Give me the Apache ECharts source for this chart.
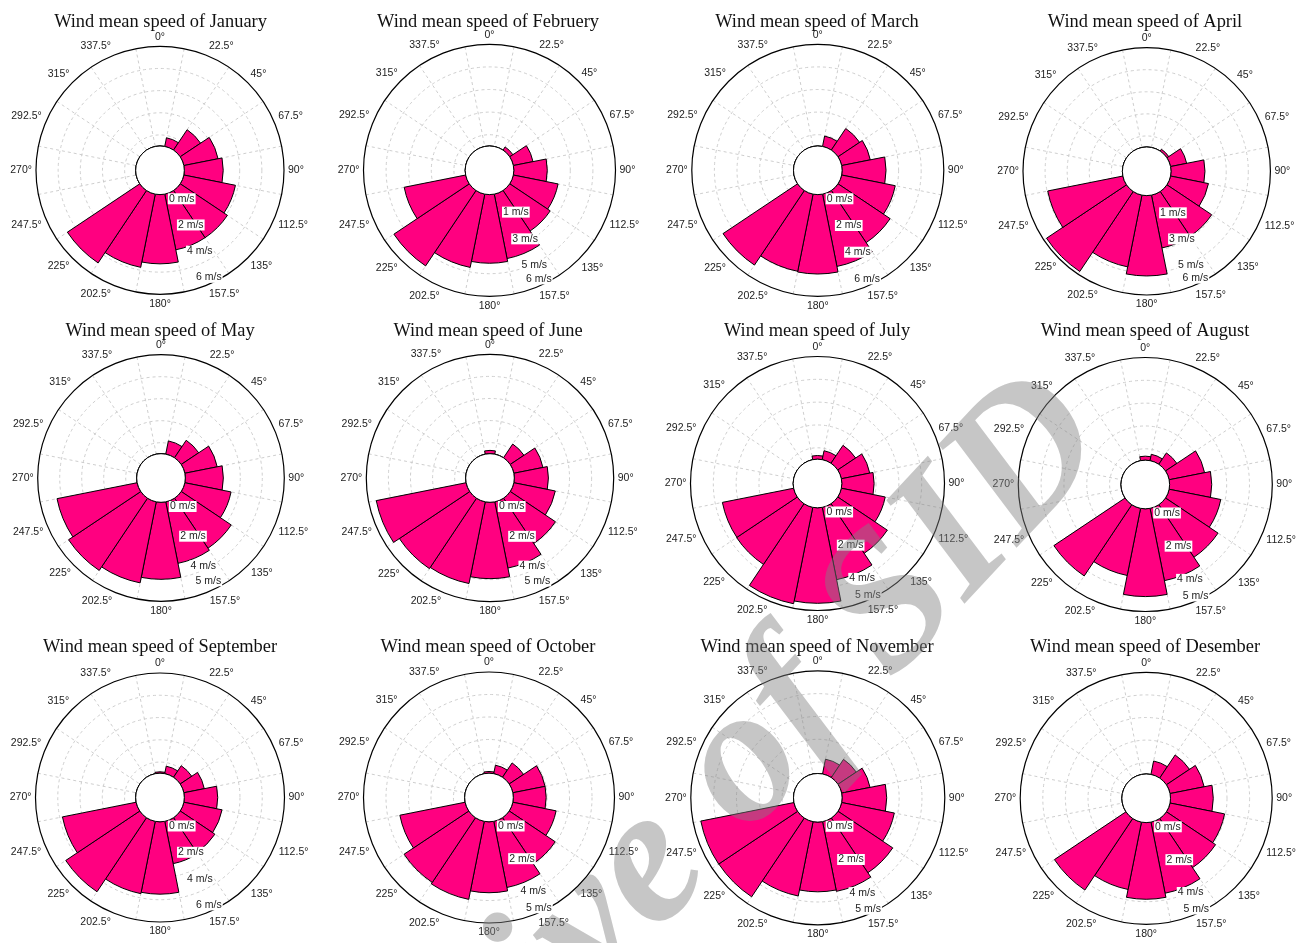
<!DOCTYPE html>
<html>
<head>
<meta charset="utf-8">
<script src="https://cdn.jsdelivr.net/npm/echarts@6/dist/echarts.min.js"></script>
<style>
  html, body { margin: 0; padding: 0; background: #ffffff; }
  #chart { width: 1297px; height: 943px; }
</style>
</head>
<body>
<div id="chart"></div>
<script>
// Compass sectors, clockwise from north
const directions = ['0°', '22.5°', '45°', '67.5°', '90°', '112.5°', '135°', '157.5°',
                    '180°', '202.5°', '225°', '247.5°', '270°', '292.5°', '315°', '337.5°'];

const monthNames = ['January', 'Februery', 'March', 'April', 'May', 'June',
                    'July', 'August', 'September', 'October', 'November', 'Desember'];

// Mean wind speed (m/s) per direction sector
const january   = [0, 0.64, 1.77, 2.52, 2.81, 3.80, 4.10, 4.10, 5.00, 5.39, 6.29, 0, 0, 0, 0, 0];
const february  = [0, 0, 0.27, 1.42, 2.37, 3.23, 3.45, 4.65, 4.86, 5.29, 6.42, 4.44, 0, 0, 0, 0];
const march     = [0, 0.75, 1.84, 2.07, 3.11, 3.87, 4.44, 5.22, 5.62, 5.57, 6.35, 0, 0, 0, 0, 0];
const april     = [0, 0, 0.16, 1.19, 2.46, 2.80, 3.90, 3.90, 5.82, 5.30, 6.97, 5.55, 0, 0, 0, 0];
const may       = [0, 0.86, 1.34, 2.10, 2.42, 3.00, 3.83, 3.99, 4.90, 5.26, 5.53, 5.20, 0, 0, 0, 0];
const june      = [0.21, 0, 1.05, 1.88, 2.16, 2.68, 3.45, 4.28, 4.84, 5.28, 5.37, 5.81, 0, 0, 0, 0];
const july      = [0.21, 0.52, 1.23, 1.65, 1.84, 2.55, 3.40, 4.20, 5.44, 5.60, 4.16, 4.14, 0, 0, 0, 0];
const august    = [0.23, 0.37, 0.78, 2.06, 2.40, 3.00, 3.60, 4.20, 5.00, 3.90, 4.88, 0, 0, 0, 0, 0];
const september = [0.10, 0.55, 1.00, 1.50, 2.40, 2.80, 3.00, 3.10, 5.20, 5.30, 6.40, 5.40, 0, 0, 0, 0];
const october   = [0.10, 0.50, 1.00, 1.90, 1.90, 2.55, 3.20, 3.90, 4.10, 4.60, 4.50, 3.85, 0, 0, 0, 0];
const november  = [0, 0.86, 1.25, 1.65, 2.54, 3.06, 3.75, 4.05, 3.97, 4.32, 5.40, 5.41, 0, 0, 0, 0];
const december  = [0, 0.79, 1.60, 2.00, 2.46, 3.20, 3.40, 4.17, 4.41, 3.95, 4.95, 0, 0, 0, 0, 0];

// Radial speed labels shown on each rose (m/s)
const janTicks = [0, 2, 4, 6];
const febTicks = [1, 3, 5, 6];
const marTicks = [0, 2, 4, 6];
const aprTicks = [1, 3, 5, 6];
const mayTicks = [0, 2, 4, 5];
const junTicks = [0, 2, 4, 5];
const julTicks = [0, 2, 4, 5];
const augTicks = [0, 2, 4, 5];
const sepTicks = [0, 2, 4, 6];
const octTicks = [0, 2, 4, 5];
const novTicks = [0, 2, 4, 5];
const decTicks = [0, 2, 4, 5];

// Speed at the outer circle of each rose (m/s)
const outerSpeed = [7.2, 7.2, 7.2, 7.2, 6.3, 6.3, 5.85, 5.85, 7.2, 5.85, 5.85, 5.85];

const monthValues = [january, february, march, april, may, june, july, august,
                     september, october, november, december];
const monthTicks = [janTicks, febTicks, marTicks, aprTicks, mayTicks, junTicks,
                    julTicks, augTicks, sepTicks, octTicks, novTicks, decTicks];

// Layout: rose centres, outer radii and title rows (pixels)
const centers = [
  [160, 170.3], [489.5, 170.3], [817.8, 170.3], [1146.7, 171.3],
  [161, 478], [490, 478], [817.5, 483.5], [1145.3, 484.5],
  [160, 797.5], [489, 797.5], [817.8, 797.8], [1146.2, 798.3]
];
const outerRadius = [124, 126, 126, 123.7, 123.3, 123.7, 127, 127, 124.5, 125.5, 127, 126];
const titleTop = [13, 13, 13, 13, 322, 322, 322, 322, 638, 638, 638, 638];
const titleX = [160.5, 488, 817, 1145, 160, 488, 817, 1145, 160, 488, 817, 1145];
const HOLE = 24.3;          // radius of the calm circle in the middle
const LABEL_BEARING = 161;  // compass bearing of the speed labels

const polar = [], angleAxis = [], radiusAxis = [], series = [], title = [];

monthValues.forEach((values, i) => {
  const M = outerSpeed[i];
  const R = outerRadius[i];
  // the axis runs from -M/9 (hidden under the calm circle) to M;
  // speed 0 lands exactly on the calm circle edge
  const rIn = (HOLE - 0.1 * R) / 0.9;
  const center = centers[i];
  const rings = [-M / 9, M / 9, 3 * M / 9, 5 * M / 9, 7 * M / 9];

  title.push({
    text: 'Wind mean speed of ' + monthNames[i],
    left: titleX[i], top: titleTop[i], textAlign: 'center', padding: 0,
    textStyle: { fontFamily: 'Liberation Serif', fontSize: 18.4, fontWeight: 'normal', color: '#111' }
  });

  // rose grid and bars
  polar.push({ center: center, radius: [rIn, R] });
  angleAxis.push({
    polarIndex: 2 * i,
    type: 'category',
    data: directions,
    startAngle: 90 + 11.25,
    clockwise: true,
    boundaryGap: true,
    axisLine: { show: true, lineStyle: { color: '#000', width: 1.2 } },
    axisTick: { show: false },
    axisLabel: { show: true, interval: 0, margin: 4, fontFamily: 'Liberation Sans', fontSize: 10.5, color: '#222' },
    splitLine: { show: true, lineStyle: { color: '#c8c8c8', width: 0.9, type: [3, 3] } },
    z: 1
  });
  radiusAxis.push({
    polarIndex: 2 * i,
    type: 'value',
    min: -M / 9,
    max: M,
    axisLine: { show: false },
    axisTick: { show: false, customValues: rings },
    axisLabel: { show: false },
    splitLine: { show: true, lineStyle: { color: '#c8c8c8', width: 0.9, type: [3, 3] } },
    z: 1
  });

  // speed labels along a fixed bearing
  polar.push({ center: center, radius: [rIn, R] });
  angleAxis.push({
    polarIndex: 2 * i + 1,
    type: 'value', min: 0, max: 360,
    startAngle: 90 - LABEL_BEARING,
    show: false
  });
  radiusAxis.push({
    polarIndex: 2 * i + 1,
    type: 'value',
    min: -M / 9,
    max: M,
    z: 10,
    axisLine: { show: false },
    axisTick: { show: false },
    splitLine: { show: false },
    axisLabel: {
      show: true,
      customValues: monthTicks[i],
      formatter: v => v + ' m/s',
      margin: 0,
      align: 'left',
      verticalAlign: 'top',
      fontFamily: 'Liberation Sans',
      fontSize: 10.5,
      color: '#222',
      backgroundColor: '#fff',
      padding: [0, 1, 0, 1]
    }
  });

  series.push({
    type: 'bar',
    coordinateSystem: 'polar',
    polarIndex: 2 * i,
    data: values,
    barCategoryGap: '0%',
    silent: true,
    animation: false,
    itemStyle: { color: '#ff0080', borderColor: '#000', borderWidth: 1 },
    z: 2
  });
  // calm circle
  series.push({
    type: 'pie',
    center: center,
    radius: [0, HOLE],
    silent: true,
    animation: false,
    label: { show: false },
    labelLine: { show: false },
    itemStyle: { color: '#fff', borderColor: '#000', borderWidth: 1 },
    data: [{ value: 1 }],
    z: 3
  });
});

const chart = echarts.init(document.getElementById('chart'), null, { renderer: 'canvas' });
chart.setOption({
  backgroundColor: '#ffffff',
  animation: false,
  title: title,
  polar: polar,
  angleAxis: angleAxis,
  radiusAxis: radiusAxis,
  series: series,
  graphic: [{
    type: 'text',
    x: 663, y: 853,
    rotation: 47 * Math.PI / 180,
    silent: true,
    z: 100,
    style: {
      text: 'Archive of SID',
      font: 'italic bold 195px "Liberation Serif"',
      fill: 'rgba(128,128,128,0.45)',
      align: 'center',
      verticalAlign: 'middle'
    }
  }]
});
</script>
</body>
</html>
